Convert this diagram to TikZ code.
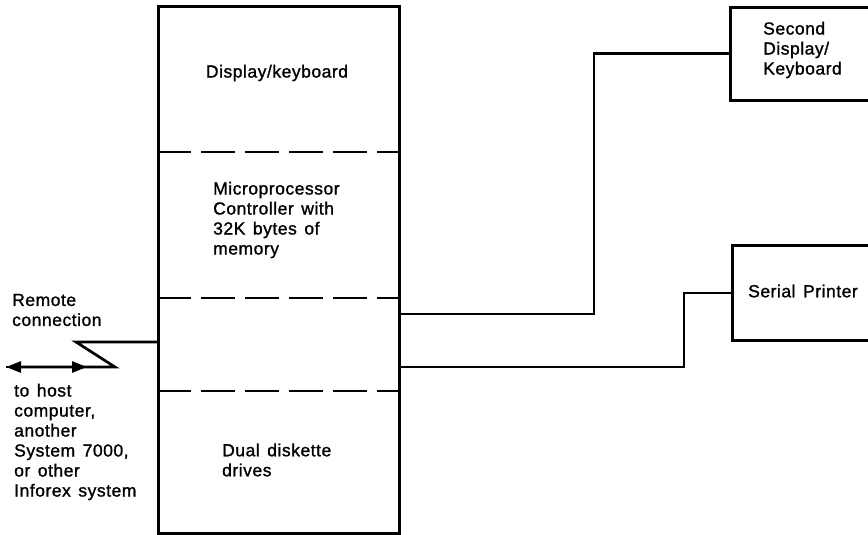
\documentclass[tikz,border=0pt]{standalone}
\usepackage{fontspec}
\setmainfont{Liberation Sans}[LetterSpace=3,WordSpace=1.4,FakeBold=1.2]
\usetikzlibrary{arrows.meta}
\begin{document}
\begin{tikzpicture}[x=1pt,y=-1pt,
  lbl/.style={font=\fontsize{17.5}{20}\selectfont, inner sep=0pt, align=left},
  blk/.style={draw, line width=2.7pt, inner sep=0pt, anchor=north west},
  sep/.style={line width=2.7pt, dash pattern=on 34pt off 10pt},
  wire/.style={line width=2.7pt},
  tip/.style={-{Triangle[length=15pt,width=11pt]}}]
\clip (0,0) rectangle (868,535);
\fill[white] (0,0) rectangle (868,535);
% main box
\node[blk, minimum width=241pt, minimum height=527pt] (main) at (157,5) {};
\coordinate (d1) at (0,152);
\coordinate (d2) at (0,298);
\coordinate (d3) at (0,391);
\draw[sep] (main.west |- d1) -- (main.east |- d1);
\draw[sep] (main.west |- d2) -- (main.east |- d2);
\draw[sep] (main.west |- d3) -- (main.east |- d3);
\node[lbl] (tdk) at (277,73) {Display/keyboard};
\node[lbl, anchor=west] (tmp) at (213,220) {Microprocessor\\Controller with\\32K bytes of\\memory};
\node[lbl, anchor=west] (tdd) at (222,460) {Dual diskette\\drives};
% right boxes
\node[blk, minimum width=200pt, minimum height=93pt] (disp2) at (729,6) {};
\node[lbl, anchor=west] (tdisp2) at (763,50) {Second\\Display/\\Keyboard};
\node[blk, minimum width=200pt, minimum height=95pt] (ser) at (731,244) {};
\node[lbl, anchor=west] (tser) at (748,291) {Serial Printer};
% connectors right
\coordinate (j1) at (594,314);
\coordinate (j2) at (684,367);
\draw[wire] (main.east |- j1) -- (j1) |- (disp2.west);
\draw[wire] (main.east |- j2) -- (j2) |- (ser.west);
% remote connection
\coordinate (z1) at (76,342);
\coordinate (z2) at (115,367);
\coordinate (z3) at (6,367);
\coordinate (m1) at (87,367);
\draw[wire, tip] (main.west |- z1) -- (z1) -- (z2) -- (z3);
\draw[wire, tip] (z3) -- (m1);
\node[lbl, anchor=west] (trc) at (12,310) {Remote\\connection};
\node[lbl, anchor=west] (thost) at (14,442) {to host\\computer,\\another\\System 7000,\\or other\\Inforex system};
\end{tikzpicture}
\end{document}
